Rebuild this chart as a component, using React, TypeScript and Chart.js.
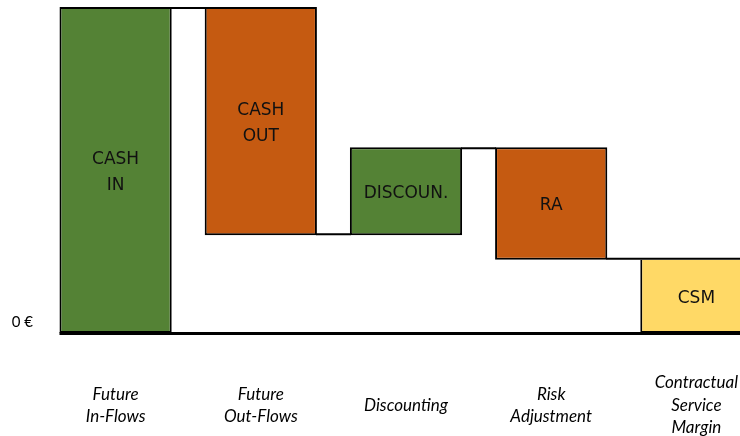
import React, { useEffect, useRef } from "react";
import { Chart, registerables } from "chart.js";

Chart.register(...registerables);

const categories: string[][] = [
  ["Future", "In-Flows"],
  ["Future", "Out-Flows"],
  ["Discounting"],
  ["Risk", "Adjustment"],
  ["Contractual", "Service", "Margin"],
];
const barLabels: string[][] = [["CASH", "IN"], ["CASH", "OUT"], ["DISCOUN."], ["RA"], ["CSM"]];
// cash in, cash out, discounting, risk adjustment (CSM = remaining total)
const movements: number[] = [100, -70, 27, -34.5];
const barColors: string[] = ["#548235", "#C55A11", "#548235", "#C55A11", "#FFD966"];
const yTickValues: number[] = [0];
const yTickLabels: string[] = ["0 €"];

const running: number[] = [];
const ranges: [number, number][] = [];
{
  let acc = 0;
  movements.forEach((d) => {
    const s = acc;
    acc += d;
    running.push(acc);
    ranges.push([Math.min(s, acc), Math.max(s, acc)]);
  });
  ranges.push([0, acc]);
}

// a bar whose top sits on the previous bar's bottom shares that edge line
const sharesTopWithPrevBottom = (i: number) =>
  i > 0 && ranges[i - 1][0] === running[i - 1] && ranges[i][1] === running[i - 1];

const waterfallPlugin = {
  id: "waterfallDecor",
  afterDatasetsDraw(chart: any) {
    const meta = chart.getDatasetMeta(0);
    const y = chart.scales.y;
    const ctx = chart.ctx;
    ctx.save();
    ctx.strokeStyle = "#000";
    ctx.lineWidth = 2;
    for (let i = 0; i < running.length; i++) {
      const a = meta.data[i];
      const b = meta.data[i + 1];
      const ax = a.x + a.width / 2;
      const bx = sharesTopWithPrevBottom(i + 1) ? b.x + b.width / 2 : b.x - b.width / 2;
      let py = y.getPixelForValue(running[i]);
      py += ranges[i][1] === running[i] ? 1 : -1;
      ctx.beginPath();
      ctx.moveTo(ax - 1, py);
      ctx.lineTo(bx + 1, py);
      ctx.stroke();
    }
    const first = meta.data[0];
    const y0 = y.getPixelForValue(0);
    ctx.lineWidth = 3;
    ctx.beginPath();
    ctx.moveTo(first.x - first.width / 2, y0 + 0.5);
    ctx.lineTo(chart.width, y0 + 0.5);
    ctx.stroke();

    ctx.font = '17px "DejaVu Sans"';
    ctx.textAlign = "center";
    ctx.textBaseline = "middle";
    ctx.fillStyle = "#111";
    meta.data.forEach((el: any, i: number) => {
      const lines = barLabels[i];
      const cy = (el.y + el.base) / 2 + 2.5;
      const lh = 26;
      lines.forEach((ln, j) => {
        ctx.fillText(ln, el.x, cy + (j - (lines.length - 1) / 2) * lh);
      });
    });
    ctx.restore();
  },
};

export default function App() {
  const ref = useRef<HTMLCanvasElement | null>(null);
  useEffect(() => {
    if (!ref.current) return;
    const chart = new Chart(ref.current, {
      type: "bar",
      data: {
        labels: categories as any,
        datasets: [
          {
            data: ranges as any,
            backgroundColor: barColors,
            borderColor: "#000",
            borderWidth: (c: any) =>
              sharesTopWithPrevBottom(c.dataIndex)
                ? { top: 0, left: 2, right: 2, bottom: 2 }
                : 2,
            borderSkipped: false,
            barPercentage: 0.773,
            categoryPercentage: 1,
            clip: false as any,
          } as any,
        ],
      },
      options: {
        animation: false,
        responsive: false,
        devicePixelRatio: 1,
        layout: { padding: { top: 7, left: 0, right: 0, bottom: 0 } },
        plugins: { legend: { display: false }, tooltip: { enabled: false } },
        scales: {
          x: {
            grid: { display: false, drawTicks: false },
            border: { display: false },
            ticks: {
              font: { family: "Lato", style: "italic", size: 17, lineHeight: 22.5 / 17 },
              color: "#000",
              padding: 50,
              crossAlign: "center",
              maxRotation: 0,
              autoSkip: false,
            },
            afterFit: (s: any) => {
              s.height = 103;
              s.paddingLeft = 0;
              s.paddingRight = 0;
              s.paddingTop = 0;
              s.paddingBottom = 0;
            },
          },
          y: {
            min: 0,
            max: 100,
            grid: { display: false, drawTicks: false },
            border: { display: false },
            afterBuildTicks: (s: any) => {
              s.ticks = yTickValues.map((v) => ({ value: v }));
            },
            ticks: {
              callback: (v: any) => {
                const k = yTickValues.indexOf(Number(v));
                return k >= 0 ? yTickLabels[k] : "";
              },
              padding: 10,
              labelOffset: -11,
              font: { family: "Lato", size: 15 },
              color: "#000",
            },
            afterFit: (s: any) => {
              s.width = 43;
              s.paddingLeft = 0;
              s.paddingRight = 0;
              s.paddingTop = 0;
              s.paddingBottom = 0;
            },
          },
        },
      },
      plugins: [waterfallPlugin],
    });
    return () => chart.destroy();
  }, []);
  return (
    <div
      style={{
        position: "fixed",
        left: 0,
        top: 0,
        width: 740,
        height: 436,
        overflow: "hidden",
        background: "#fff",
      }}
    >
      <canvas ref={ref} width={769} height={436} style={{ display: "block", width: 769, height: 436 }} />
    </div>
  );
}
